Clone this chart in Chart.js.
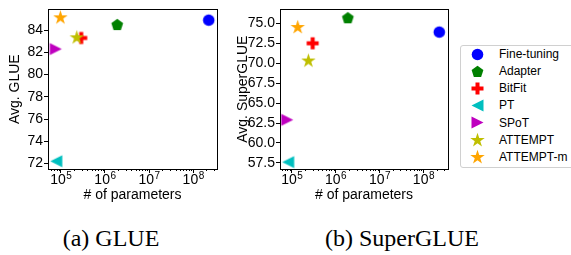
<!DOCTYPE html>
<html lang="en">
  <head>
    <meta charset="UTF-8" />
    <title>Params vs score</title>
    <script src="https://cdn.jsdelivr.net/npm/chart.js"></script>
    <style>
      body {
        margin: 0;
        width: 571px;
        height: 255px;
        background: #fff;
        position: relative;
        overflow: hidden;
        font-family: "Liberation Sans", Arial, sans-serif;
      }
      canvas.plot {
        position: absolute;
        top: 0;
      }
      .caption {
        position: absolute;
        top: 226px;
        font-family: "Liberation Serif", "Times New Roman", serif;
        font-size: 24px;
        line-height: 24px;
        white-space: nowrap;
        transform: translateX(-50%);
      }
      .legend {
        position: absolute;
        left: 460px;
        top: 45px;
        width: 116px;
        height: 121px;
        border: 1px solid #d0d0d0;
        border-radius: 3px;
        background: #fff;
      }
      .legend .row {
        position: absolute;
        left: 0;
        height: 16px;
        font-size: 12px;
        line-height: 16px;
      }
      .legend canvas {
        position: absolute;
      }
      .legend span {
        position: absolute;
        left: 38px;
        top: 0;
        white-space: nowrap;
      }
    </style>
  </head>
  <body>
    <canvas class="plot" id="glue" width="225" height="212" style="left: 0px"></canvas>
    <canvas class="plot" id="superglue" width="230" height="212" style="left: 228px"></canvas>
    <div class="legend" id="legend"></div>
    <div class="caption" style="left: 111px">(a) GLUE</div>
    <div class="caption" style="left: 402px">(b) SuperGLUE</div>
    <script>
      // ---- data ----
      const methods = ["Fine-tuning", "Adapter", "BitFit", "PT", "SPoT", "ATTEMPT", "ATTEMPT-m"];
      const glueParams = [2.25e8, 1.9e6, 2.9e5, 7.9e4, 7.7e4, 2.3e5, 9.8e4];
      const glueScores = [84.9, 84.5, 83.3, 72.2, 82.3, 83.4, 85.2];
      const superParams = [2.3e8, 1.9e6, 3.0e5, 8.3e4, 7.9e4, 2.4e5, 1.37e5];
      const superScores = [73.9, 75.7, 72.5, 57.6, 62.9, 70.4, 74.6];

      const xTicks = [1e5, 1e6, 1e7, 1e8];
      const glueTicks = [72, 74, 76, 78, 80, 82, 84];
      const superTicks = [57.5, 60, 62.5, 65, 67.5, 70, 72.5, 75];

      // ---- marker look (matplotlib-ish) ----
      const colors = ["#0000ff", "#008000", "#ff0000", "#00bfbf", "#bf00bf", "#bfbf00", "#ffa500"];
      const shapes = ["circle", "pentagon", "plus", "tri-left", "tri-right", "star", "star"];

      function makeMarker(shape, color) {
        const c = document.createElement("canvas");
        const s = 17;
        c.width = s;
        c.height = s;
        const g = c.getContext("2d");
        const m = s / 2;
        g.fillStyle = color;
        g.beginPath();
        if (shape === "circle") {
          g.arc(m, m, 5.8, 0, Math.PI * 2);
        } else if (shape === "pentagon") {
          for (let i = 0; i < 5; i++) {
            const a = -Math.PI / 2 + (i * 2 * Math.PI) / 5;
            g.lineTo(m + 6.2 * Math.cos(a), m + 0.5 + 6.2 * Math.sin(a));
          }
        } else if (shape === "plus") {
          const h = 6, w = 2;
          const pts = [[-w, -h], [w, -h], [w, -w], [h, -w], [h, w], [w, w], [w, h], [-w, h], [-w, w], [-h, w], [-h, -w], [-w, -w]];
          pts.forEach(function (p) { g.lineTo(m + p[0], m + p[1]); });
        } else if (shape === "tri-left") {
          g.moveTo(m - 6, m);
          g.lineTo(m + 6, m - 6);
          g.lineTo(m + 6, m + 6);
        } else if (shape === "tri-right") {
          g.moveTo(m + 6, m);
          g.lineTo(m - 6, m - 6);
          g.lineTo(m - 6, m + 6);
        } else if (shape === "star") {
          const R = 7.6, r = R * 0.382;
          for (let i = 0; i < 10; i++) {
            const a = -Math.PI / 2 + (i * Math.PI) / 5;
            const rad = i % 2 === 0 ? R : r;
            g.lineTo(m + rad * Math.cos(a), m + 0.8 + rad * Math.sin(a));
          }
        }
        g.closePath();
        g.fill();
        return c;
      }
      const markers = shapes.map(function (sh, i) { return makeMarker(sh, colors[i]); });

      const font = "'Liberation Sans', Arial, sans-serif";

      // ---- plugins ----
      // box around the axes, minor log ticks, and 10^n tick labels
      const frame = {
        id: "frame",
        afterDraw(chart) {
          const { ctx, chartArea: a, scales } = chart;
          const x = scales.x;
          ctx.save();
          ctx.strokeStyle = "#000";
          ctx.lineWidth = 1;
          ctx.beginPath();
          const e0 = Math.floor(Math.log10(x.min));
          const e1 = Math.ceil(Math.log10(x.max));
          for (let e = e0; e <= e1; e++) {
            for (let k = 2; k <= 9; k++) {
              const v = k * Math.pow(10, e);
              if (v <= x.min || v >= x.max) continue;
              const px = Math.round(x.getPixelForValue(v)) + 0.5;
              ctx.moveTo(px, a.bottom);
              ctx.lineTo(px, a.bottom + 2);
            }
          }
          ctx.stroke();
          ctx.strokeRect(Math.round(a.left) + 0.5, Math.round(a.top) + 0.5,
            Math.round(a.right) - Math.round(a.left), Math.round(a.bottom) - Math.round(a.top));

          ctx.fillStyle = "#000";
          ctx.textBaseline = "alphabetic";
          ctx.textAlign = "left";
          xTicks.forEach(function (v) {
            const px = x.getPixelForValue(v);
            const exp = String(Math.round(Math.log10(v)));
            ctx.font = "14px " + font;
            const wb = ctx.measureText("10").width;
            ctx.font = "10px " + font;
            const we = ctx.measureText(exp).width;
            const left = px - (wb + we) / 2;
            ctx.font = "14px " + font;
            ctx.fillText("10", left, a.bottom + 15);
            ctx.font = "10px " + font;
            ctx.fillText(exp, left + wb + 0.5, a.bottom + 9.5);
          });
          ctx.restore();
        },
      };

      function makeChart(id, params, scores, opts) {
        const datasets = methods.map(function (name, i) {
          return {
            label: name,
            data: [{ x: params[i], y: scores[i] }],
            pointStyle: markers[i],
            order: -i,
            clip: false,
          };
        });
        return new Chart(document.getElementById(id), {
          type: "scatter",
          data: { datasets: datasets },
          plugins: [frame],
          options: {
            responsive: false,
            animation: false,
            events: [],
            layout: { padding: { top: opts.top, right: opts.right, left: 0, bottom: 0 } },
            plugins: { legend: { display: false }, tooltip: { enabled: false } },
            scales: {
              x: {
                type: "logarithmic",
                min: opts.xmin,
                max: opts.xmax,
                afterBuildTicks: function (s) {
                  s.ticks = xTicks.map(function (v) { return { value: v, major: true }; });
                },
                afterFit: function (s) { s.height = 43; },
                ticks: {
                  autoSkip: false,
                  maxRotation: 0,
                  padding: 1,
                  color: "#000",
                  font: { family: font, size: 14 },
                  callback: function () { return ""; },
                },
                grid: { drawOnChartArea: false, tickLength: 4, tickColor: "#000" },
                border: { color: "#000" },
                title: {
                  display: true,
                  text: "# of parameters",
                  color: "#000",
                  font: { family: font, size: 14 },
                  padding: { top: 0, bottom: 8 },
                },
              },
              y: {
                min: opts.ymin,
                max: opts.ymax,
                afterBuildTicks: function (s) {
                  s.ticks = opts.yTicks.map(function (v) { return { value: v }; });
                },
                afterFit: function (s) { s.width = opts.yWidth; },
                ticks: {
                  padding: 1,
                  color: "#000",
                  font: { family: font, size: 14 },
                  callback: opts.yLabel,
                },
                grid: { drawOnChartArea: false, tickLength: 4, tickColor: "#000" },
                border: { color: "#000" },
                title: {
                  display: true,
                  text: opts.yTitle,
                  color: "#000",
                  font: { family: font, size: 14 },
                  padding: { top: 7, bottom: 0 },
                },
              },
            },
          },
        });
      }

      makeChart("glue", glueParams, glueScores, {
        xmin: Math.pow(10, 4.71),
        xmax: Math.pow(10, 8.54),
        ymin: 71.5,
        ymax: 85.87,
        yTicks: glueTicks,
        yLabel: function (v) { return String(v); },
        yTitle: "Avg. GLUE",
        yWidth: 48,
        top: 4,
        right: 8,
      });

      makeChart("superglue", superParams, superScores, {
        xmin: Math.pow(10, 4.733),
        xmax: Math.pow(10, 8.56),
        ymin: 56.73,
        ymax: 76.75,
        yTicks: superTicks,
        yLabel: function (v) { return v.toFixed(1); },
        yTitle: "Avg. SuperGLUE",
        yWidth: 52,
        top: 6,
        right: 10,
      });

      // ---- legend ----
      const legend = document.getElementById("legend");
      methods.forEach(function (name, i) {
        const row = document.createElement("div");
        row.className = "row";
        row.style.top = 9 - 8 - 1 + i * 17.15 + "px";
        const mk = document.createElement("canvas");
        mk.width = 17;
        mk.height = 17;
        mk.getContext("2d").drawImage(markers[i], 0, 0);
        mk.style.left = 16.7 - 8.5 + "px";
        mk.style.top = "-0.5px";
        const label = document.createElement("span");
        label.textContent = name;
        row.appendChild(mk);
        row.appendChild(label);
        legend.appendChild(row);
      });
    </script>
  </body>
</html>
